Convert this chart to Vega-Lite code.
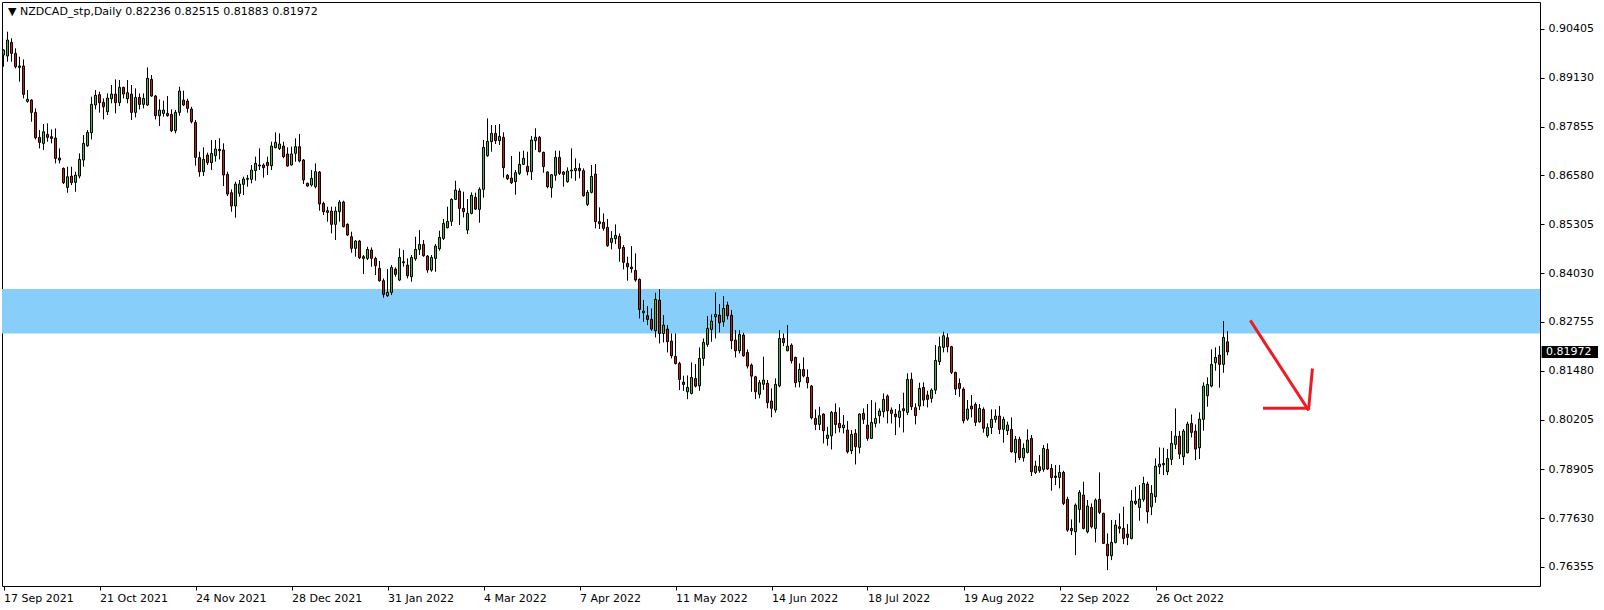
{
"$schema": "https://vega.github.io/schema/vega-lite/v6.json",
"width": 1538, "height": 584,
"autosize": {"type": "none"},
"padding": {"left": 2, "top": 2, "right": 64, "bottom": 24},
"background": "#ffffff",
"config": {
"view": {"stroke": "#000000", "strokeWidth": 1},
"font": "DejaVu Sans",
"scale": {"continuousPadding": 0},
"axisX": {"grid": false, "domain": false, "ticks": true, "tickSize": 4, "tickColor": "#000000", "tickWidth": 1, "labelAlign": "left", "labelBaseline": "top", "labelPadding": 2, "labelFont": "DejaVu Sans", "labelFontSize": 11, "labelColor": "#000000", "labelFlush": false, "labelOverlap": false, "labelBound": false},
"axisY": {"grid": false, "domain": false, "ticks": true, "tickSize": 4, "tickColor": "#000000", "tickWidth": 1, "labelAlign": "left", "labelBaseline": "middle", "labelPadding": 4, "labelFont": "DejaVu Sans", "labelFontSize": 11, "labelColor": "#000000", "labelFlush": false, "labelOverlap": false, "labelBound": false}
},
"title": {"text": "▼ NZDCAD_stp,Daily  0.82236 0.82515 0.81883 0.81972", "anchor": "start", "frame": "group", "orient": "top", "offset": -15, "dx": 6, "font": "DejaVu Sans", "fontSize": 11, "fontWeight": "normal", "color": "#000000"},
"datasets": {
"ohlc": [
{"t":0,"o":0.89725,"h":0.89874,"l":0.89421,"c":0.89856},
{"t":1,"o":0.89699,"h":0.90335,"l":0.89551,"c":0.90117},
{"t":2,"o":0.90056,"h":0.90161,"l":0.89551,"c":0.89769},
{"t":3,"o":0.89769,"h":0.89900,"l":0.89377,"c":0.89421},
{"t":4,"o":0.89438,"h":0.89682,"l":0.89029,"c":0.89403},
{"t":5,"o":0.89438,"h":0.89612,"l":0.88593,"c":0.88698},
{"t":6,"o":0.88515,"h":0.88811,"l":0.88480,"c":0.88567},
{"t":7,"o":0.88550,"h":0.88567,"l":0.87983,"c":0.88227},
{"t":8,"o":0.88227,"h":0.88332,"l":0.87522,"c":0.87565},
{"t":9,"o":0.87574,"h":0.87766,"l":0.87287,"c":0.87443},
{"t":10,"o":0.87417,"h":0.87922,"l":0.87243,"c":0.87722},
{"t":11,"o":0.87652,"h":0.87940,"l":0.87461,"c":0.87574},
{"t":12,"o":0.87592,"h":0.87783,"l":0.87417,"c":0.87548},
{"t":13,"o":0.87557,"h":0.87809,"l":0.86895,"c":0.87025},
{"t":14,"o":0.87034,"h":0.87287,"l":0.86895,"c":0.86982},
{"t":15,"o":0.86764,"h":0.86790,"l":0.86355,"c":0.86390},
{"t":16,"o":0.86268,"h":0.86808,"l":0.86128,"c":0.86546},
{"t":17,"o":0.86564,"h":0.86808,"l":0.86329,"c":0.86390},
{"t":18,"o":0.86398,"h":0.86677,"l":0.86154,"c":0.86590},
{"t":19,"o":0.86564,"h":0.87156,"l":0.86503,"c":0.86999},
{"t":20,"o":0.86982,"h":0.87635,"l":0.86808,"c":0.87417},
{"t":21,"o":0.87356,"h":0.87766,"l":0.87330,"c":0.87705},
{"t":22,"o":0.87696,"h":0.88637,"l":0.87522,"c":0.88436},
{"t":23,"o":0.88419,"h":0.88811,"l":0.88306,"c":0.88672},
{"t":24,"o":0.88689,"h":0.88767,"l":0.88219,"c":0.88480},
{"t":25,"o":0.88489,"h":0.88593,"l":0.88044,"c":0.88375},
{"t":26,"o":0.88245,"h":0.88724,"l":0.88158,"c":0.88602},
{"t":27,"o":0.88584,"h":0.88942,"l":0.88463,"c":0.88706},
{"t":28,"o":0.88706,"h":0.89090,"l":0.88201,"c":0.88480},
{"t":29,"o":0.88480,"h":0.89072,"l":0.88393,"c":0.88881},
{"t":30,"o":0.88881,"h":0.88898,"l":0.88593,"c":0.88706},
{"t":31,"o":0.88584,"h":0.89072,"l":0.88463,"c":0.88741},
{"t":32,"o":0.88706,"h":0.88942,"l":0.88027,"c":0.88227},
{"t":33,"o":0.88227,"h":0.88854,"l":0.88097,"c":0.88619},
{"t":34,"o":0.88619,"h":0.88724,"l":0.88306,"c":0.88436},
{"t":35,"o":0.88436,"h":0.88724,"l":0.88332,"c":0.88593},
{"t":36,"o":0.88419,"h":0.89403,"l":0.88393,"c":0.89116},
{"t":37,"o":0.89090,"h":0.89203,"l":0.88637,"c":0.88654},
{"t":38,"o":0.88654,"h":0.88680,"l":0.88044,"c":0.88140},
{"t":39,"o":0.88140,"h":0.88567,"l":0.87870,"c":0.88288},
{"t":40,"o":0.88201,"h":0.88532,"l":0.88114,"c":0.88288},
{"t":41,"o":0.88201,"h":0.88654,"l":0.88114,"c":0.88140},
{"t":42,"o":0.88175,"h":0.88306,"l":0.87713,"c":0.87748},
{"t":43,"o":0.87748,"h":0.88288,"l":0.87679,"c":0.88227},
{"t":44,"o":0.88227,"h":0.88898,"l":0.88140,"c":0.88785},
{"t":45,"o":0.88550,"h":0.88794,"l":0.88393,"c":0.88419},
{"t":46,"o":0.88524,"h":0.88584,"l":0.88219,"c":0.88332},
{"t":47,"o":0.88314,"h":0.88375,"l":0.87940,"c":0.87983},
{"t":48,"o":0.87966,"h":0.88027,"l":0.86834,"c":0.87052},
{"t":49,"o":0.87045,"h":0.87201,"l":0.86548,"c":0.86679},
{"t":50,"o":0.86679,"h":0.87315,"l":0.86565,"c":0.87001},
{"t":51,"o":0.87114,"h":0.87175,"l":0.86853,"c":0.86914},
{"t":52,"o":0.86914,"h":0.87506,"l":0.86722,"c":0.87158},
{"t":53,"o":0.87097,"h":0.87506,"l":0.86940,"c":0.87271},
{"t":54,"o":0.87262,"h":0.87550,"l":0.87001,"c":0.87227},
{"t":55,"o":0.87245,"h":0.87419,"l":0.86304,"c":0.86592},
{"t":56,"o":0.86609,"h":0.86679,"l":0.86043,"c":0.86095},
{"t":57,"o":0.86130,"h":0.86217,"l":0.85633,"c":0.85782},
{"t":58,"o":0.85782,"h":0.86417,"l":0.85477,"c":0.86356},
{"t":59,"o":0.86113,"h":0.86461,"l":0.86025,"c":0.86356},
{"t":60,"o":0.86348,"h":0.86548,"l":0.86069,"c":0.86487},
{"t":61,"o":0.86478,"h":0.86592,"l":0.86287,"c":0.86504},
{"t":62,"o":0.86478,"h":0.86853,"l":0.86374,"c":0.86722},
{"t":63,"o":0.86705,"h":0.87071,"l":0.86444,"c":0.86896},
{"t":64,"o":0.86853,"h":0.87288,"l":0.86722,"c":0.86827},
{"t":65,"o":0.86853,"h":0.86896,"l":0.86522,"c":0.86783},
{"t":66,"o":0.86923,"h":0.87071,"l":0.86592,"c":0.86835},
{"t":67,"o":0.86835,"h":0.87463,"l":0.86722,"c":0.87349},
{"t":68,"o":0.87306,"h":0.87706,"l":0.87288,"c":0.87445},
{"t":69,"o":0.87280,"h":0.87680,"l":0.87245,"c":0.87402},
{"t":70,"o":0.87349,"h":0.87463,"l":0.87027,"c":0.87071},
{"t":71,"o":0.87140,"h":0.87315,"l":0.86809,"c":0.86827},
{"t":72,"o":0.86853,"h":0.87332,"l":0.86840,"c":0.87140},
{"t":73,"o":0.87158,"h":0.87550,"l":0.86940,"c":0.87332},
{"t":74,"o":0.87332,"h":0.87663,"l":0.86923,"c":0.86957},
{"t":75,"o":0.86984,"h":0.87010,"l":0.86356,"c":0.86461},
{"t":76,"o":0.86374,"h":0.86391,"l":0.86287,"c":0.86304},
{"t":77,"o":0.86330,"h":0.86722,"l":0.86287,"c":0.86504},
{"t":78,"o":0.86287,"h":0.86896,"l":0.86243,"c":0.86679},
{"t":79,"o":0.86670,"h":0.86696,"l":0.85660,"c":0.85834},
{"t":80,"o":0.85851,"h":0.85895,"l":0.85546,"c":0.85633},
{"t":81,"o":0.85660,"h":0.85764,"l":0.85372,"c":0.85616},
{"t":82,"o":0.85651,"h":0.85764,"l":0.85067,"c":0.85303},
{"t":83,"o":0.85303,"h":0.85764,"l":0.84893,"c":0.85651},
{"t":84,"o":0.85633,"h":0.85938,"l":0.85372,"c":0.85886},
{"t":85,"o":0.85886,"h":0.85921,"l":0.85224,"c":0.85242},
{"t":86,"o":0.85303,"h":0.85329,"l":0.84998,"c":0.85024},
{"t":87,"o":0.84980,"h":0.85111,"l":0.84562,"c":0.84675},
{"t":88,"o":0.84675,"h":0.84893,"l":0.84458,"c":0.84867},
{"t":89,"o":0.84867,"h":0.84893,"l":0.84397,"c":0.84432},
{"t":90,"o":0.84458,"h":0.84501,"l":0.84005,"c":0.84414},
{"t":91,"o":0.84414,"h":0.84719,"l":0.84371,"c":0.84649},
{"t":92,"o":0.84632,"h":0.84701,"l":0.84196,"c":0.84414},
{"t":93,"o":0.84414,"h":0.84458,"l":0.83979,"c":0.84222},
{"t":94,"o":0.84153,"h":0.84344,"l":0.83805,"c":0.83831},
{"t":95,"o":0.83831,"h":0.83891,"l":0.83386,"c":0.83473},
{"t":96,"o":0.83439,"h":0.84135,"l":0.83412,"c":0.83526},
{"t":97,"o":0.83526,"h":0.84240,"l":0.83456,"c":0.84179},
{"t":98,"o":0.84135,"h":0.84179,"l":0.83935,"c":0.83996},
{"t":99,"o":0.83848,"h":0.84675,"l":0.83822,"c":0.84440},
{"t":100,"o":0.84301,"h":0.84632,"l":0.84196,"c":0.84327},
{"t":101,"o":0.84240,"h":0.84414,"l":0.83891,"c":0.83961},
{"t":102,"o":0.83935,"h":0.84501,"l":0.83804,"c":0.84440},
{"t":103,"o":0.84405,"h":0.84980,"l":0.84353,"c":0.84649},
{"t":104,"o":0.84649,"h":0.85154,"l":0.84501,"c":0.84780},
{"t":105,"o":0.84780,"h":0.84893,"l":0.84457,"c":0.84483},
{"t":106,"o":0.84475,"h":0.84501,"l":0.84039,"c":0.84109},
{"t":107,"o":0.84109,"h":0.84501,"l":0.84065,"c":0.84440},
{"t":108,"o":0.84414,"h":0.84788,"l":0.84065,"c":0.84736},
{"t":109,"o":0.84666,"h":0.85137,"l":0.84614,"c":0.84963},
{"t":110,"o":0.84936,"h":0.85442,"l":0.84893,"c":0.85328},
{"t":111,"o":0.85215,"h":0.85764,"l":0.85198,"c":0.85381},
{"t":112,"o":0.85381,"h":0.85982,"l":0.85259,"c":0.85955},
{"t":113,"o":0.85955,"h":0.86443,"l":0.85938,"c":0.86199},
{"t":114,"o":0.86173,"h":0.86243,"l":0.85285,"c":0.85720},
{"t":115,"o":0.85720,"h":0.86156,"l":0.85485,"c":0.85633},
{"t":116,"o":0.85154,"h":0.85964,"l":0.85050,"c":0.85590},
{"t":117,"o":0.85590,"h":0.86138,"l":0.85564,"c":0.86060},
{"t":118,"o":0.86008,"h":0.86130,"l":0.85677,"c":0.85703},
{"t":119,"o":0.85694,"h":0.86269,"l":0.85346,"c":0.86217},
{"t":120,"o":0.86217,"h":0.87506,"l":0.85999,"c":0.87314},
{"t":121,"o":0.87096,"h":0.88072,"l":0.87070,"c":0.87471},
{"t":122,"o":0.87462,"h":0.87898,"l":0.87201,"c":0.87680},
{"t":123,"o":0.87680,"h":0.87898,"l":0.87401,"c":0.87488},
{"t":124,"o":0.87488,"h":0.87924,"l":0.87375,"c":0.87602},
{"t":125,"o":0.87576,"h":0.87706,"l":0.86522,"c":0.86783},
{"t":126,"o":0.86583,"h":0.86617,"l":0.86461,"c":0.86495},
{"t":127,"o":0.86513,"h":0.87088,"l":0.86356,"c":0.86391},
{"t":128,"o":0.86417,"h":0.86722,"l":0.86077,"c":0.86652},
{"t":129,"o":0.86635,"h":0.87201,"l":0.86591,"c":0.86870},
{"t":130,"o":0.86870,"h":0.87227,"l":0.86852,"c":0.87027},
{"t":131,"o":0.86818,"h":0.87201,"l":0.86583,"c":0.86678},
{"t":132,"o":0.86678,"h":0.87610,"l":0.86461,"c":0.87506},
{"t":133,"o":0.87488,"h":0.87811,"l":0.87245,"c":0.87576},
{"t":134,"o":0.87576,"h":0.87610,"l":0.87184,"c":0.87201},
{"t":135,"o":0.87184,"h":0.87201,"l":0.86652,"c":0.86809},
{"t":136,"o":0.86670,"h":0.86687,"l":0.86243,"c":0.86286},
{"t":137,"o":0.86260,"h":0.86617,"l":0.85999,"c":0.86600},
{"t":138,"o":0.86583,"h":0.87227,"l":0.86443,"c":0.87053},
{"t":139,"o":0.87053,"h":0.87227,"l":0.86591,"c":0.86635},
{"t":140,"o":0.86670,"h":0.86696,"l":0.86286,"c":0.86609},
{"t":141,"o":0.86417,"h":0.86792,"l":0.86391,"c":0.86696},
{"t":142,"o":0.86696,"h":0.87288,"l":0.86504,"c":0.86722},
{"t":143,"o":0.86705,"h":0.87027,"l":0.86443,"c":0.86765},
{"t":144,"o":0.86765,"h":0.86896,"l":0.86504,"c":0.86705},
{"t":145,"o":0.86705,"h":0.86765,"l":0.86025,"c":0.86051},
{"t":146,"o":0.85825,"h":0.86199,"l":0.85781,"c":0.86138},
{"t":147,"o":0.86138,"h":0.86852,"l":0.86112,"c":0.86556},
{"t":148,"o":0.86617,"h":0.86879,"l":0.85198,"c":0.85372},
{"t":149,"o":0.85372,"h":0.85747,"l":0.85181,"c":0.85320},
{"t":150,"o":0.85355,"h":0.85590,"l":0.85137,"c":0.85198},
{"t":151,"o":0.85224,"h":0.85442,"l":0.84719,"c":0.84745},
{"t":152,"o":0.84832,"h":0.85128,"l":0.84649,"c":0.84937},
{"t":153,"o":0.84928,"h":0.85303,"l":0.84789,"c":0.85015},
{"t":154,"o":0.84989,"h":0.85067,"l":0.84327,"c":0.84675},
{"t":155,"o":0.84702,"h":0.84762,"l":0.84127,"c":0.84310},
{"t":156,"o":0.84283,"h":0.84458,"l":0.83831,"c":0.84196},
{"t":157,"o":0.84188,"h":0.84736,"l":0.84040,"c":0.84144},
{"t":158,"o":0.84101,"h":0.84545,"l":0.83805,"c":0.83848},
{"t":159,"o":0.83865,"h":0.83891,"l":0.82846,"c":0.83081},
{"t":160,"o":0.82994,"h":0.83325,"l":0.82759,"c":0.83038},
{"t":161,"o":0.82916,"h":0.83169,"l":0.82672,"c":0.82820},
{"t":162,"o":0.82820,"h":0.83108,"l":0.82524,"c":0.82568},
{"t":163,"o":0.82524,"h":0.83517,"l":0.82350,"c":0.83343},
{"t":164,"o":0.83325,"h":0.83613,"l":0.82193,"c":0.82454},
{"t":165,"o":0.82454,"h":0.82933,"l":0.82219,"c":0.82672},
{"t":166,"o":0.82568,"h":0.82672,"l":0.81958,"c":0.82237},
{"t":167,"o":0.82254,"h":0.82454,"l":0.81801,"c":0.81871},
{"t":168,"o":0.81853,"h":0.82454,"l":0.81644,"c":0.81670},
{"t":169,"o":0.81670,"h":0.81714,"l":0.80974,"c":0.81252},
{"t":170,"o":0.81183,"h":0.81348,"l":0.80956,"c":0.81122},
{"t":171,"o":0.80930,"h":0.81357,"l":0.80738,"c":0.81043},
{"t":172,"o":0.80887,"h":0.81697,"l":0.80861,"c":0.81305},
{"t":173,"o":0.81278,"h":0.81653,"l":0.81043,"c":0.81078},
{"t":174,"o":0.81087,"h":0.82089,"l":0.80956,"c":0.81801},
{"t":175,"o":0.81801,"h":0.82324,"l":0.81609,"c":0.82219},
{"t":176,"o":0.82167,"h":0.82907,"l":0.82106,"c":0.82585},
{"t":177,"o":0.82559,"h":0.82951,"l":0.82237,"c":0.82777},
{"t":178,"o":0.82890,"h":0.83526,"l":0.82324,"c":0.82951},
{"t":179,"o":0.82933,"h":0.83221,"l":0.82480,"c":0.82733},
{"t":180,"o":0.82759,"h":0.83430,"l":0.82629,"c":0.83108},
{"t":181,"o":0.83195,"h":0.83282,"l":0.82820,"c":0.82916},
{"t":182,"o":0.82925,"h":0.83064,"l":0.82045,"c":0.82263},
{"t":183,"o":0.82280,"h":0.82541,"l":0.81827,"c":0.82001},
{"t":184,"o":0.82001,"h":0.82541,"l":0.81932,"c":0.82428},
{"t":185,"o":0.82411,"h":0.82472,"l":0.81845,"c":0.81871},
{"t":186,"o":0.81958,"h":0.82036,"l":0.81540,"c":0.81601},
{"t":187,"o":0.81627,"h":0.81670,"l":0.80930,"c":0.81339},
{"t":188,"o":0.81322,"h":0.81348,"l":0.80738,"c":0.80930},
{"t":189,"o":0.80865,"h":0.81238,"l":0.80760,"c":0.81168},
{"t":190,"o":0.81126,"h":0.81847,"l":0.80977,"c":0.81238},
{"t":191,"o":0.81152,"h":0.81238,"l":0.80499,"c":0.80645},
{"t":192,"o":0.80690,"h":0.81021,"l":0.80264,"c":0.80499},
{"t":193,"o":0.80455,"h":0.81282,"l":0.80384,"c":0.81126},
{"t":194,"o":0.81087,"h":0.82541,"l":0.81050,"c":0.82324},
{"t":195,"o":0.82324,"h":0.82454,"l":0.82123,"c":0.82210},
{"t":196,"o":0.82001,"h":0.82672,"l":0.81990,"c":0.82123},
{"t":197,"o":0.82149,"h":0.82193,"l":0.81670,"c":0.81740},
{"t":198,"o":0.81829,"h":0.81846,"l":0.81045,"c":0.81167},
{"t":199,"o":0.81193,"h":0.81672,"l":0.81045,"c":0.81515},
{"t":200,"o":0.81515,"h":0.81829,"l":0.81306,"c":0.81341},
{"t":201,"o":0.81306,"h":0.81515,"l":0.81019,"c":0.81167},
{"t":202,"o":0.81080,"h":0.81106,"l":0.80209,"c":0.80252},
{"t":203,"o":0.80235,"h":0.80470,"l":0.79930,"c":0.80078},
{"t":204,"o":0.80078,"h":0.80540,"l":0.79930,"c":0.80305},
{"t":205,"o":0.80348,"h":0.80366,"l":0.79582,"c":0.79913},
{"t":206,"o":0.79712,"h":0.80017,"l":0.79521,"c":0.79799},
{"t":207,"o":0.79782,"h":0.80427,"l":0.79425,"c":0.80392},
{"t":208,"o":0.80392,"h":0.80627,"l":0.79843,"c":0.80078},
{"t":209,"o":0.80104,"h":0.80522,"l":0.79869,"c":0.79991},
{"t":210,"o":0.79991,"h":0.80322,"l":0.79843,"c":0.80061},
{"t":211,"o":0.79930,"h":0.80165,"l":0.79320,"c":0.79364},
{"t":212,"o":0.79390,"h":0.79930,"l":0.79303,"c":0.79817},
{"t":213,"o":0.79843,"h":0.79956,"l":0.79033,"c":0.79495},
{"t":214,"o":0.79477,"h":0.80366,"l":0.79320,"c":0.80348},
{"t":215,"o":0.80366,"h":0.80496,"l":0.80087,"c":0.80209},
{"t":216,"o":0.80061,"h":0.80610,"l":0.79651,"c":0.79712},
{"t":217,"o":0.79712,"h":0.80714,"l":0.79700,"c":0.80130},
{"t":218,"o":0.80104,"h":0.80653,"l":0.80000,"c":0.80235},
{"t":219,"o":0.80305,"h":0.80496,"l":0.80104,"c":0.80427},
{"t":220,"o":0.80409,"h":0.80888,"l":0.80261,"c":0.80731},
{"t":221,"o":0.80819,"h":0.80862,"l":0.80104,"c":0.80435},
{"t":222,"o":0.80453,"h":0.80522,"l":0.80104,"c":0.80366},
{"t":223,"o":0.80348,"h":0.80479,"l":0.79799,"c":0.80278},
{"t":224,"o":0.80261,"h":0.80610,"l":0.80000,"c":0.80427},
{"t":225,"o":0.80488,"h":0.80906,"l":0.79869,"c":0.80435},
{"t":226,"o":0.80392,"h":0.81411,"l":0.80322,"c":0.81254},
{"t":227,"o":0.81254,"h":0.81428,"l":0.80453,"c":0.80540},
{"t":228,"o":0.80514,"h":0.80627,"l":0.80078,"c":0.80305},
{"t":229,"o":0.80557,"h":0.81167,"l":0.80453,"c":0.81019},
{"t":230,"o":0.81045,"h":0.81176,"l":0.80557,"c":0.80714},
{"t":231,"o":0.80845,"h":0.80958,"l":0.80522,"c":0.80731},
{"t":232,"o":0.80758,"h":0.81019,"l":0.80644,"c":0.80975},
{"t":233,"o":0.80975,"h":0.82151,"l":0.80871,"c":0.81751},
{"t":234,"o":0.81716,"h":0.82369,"l":0.81629,"c":0.82108},
{"t":235,"o":0.82090,"h":0.82500,"l":0.81960,"c":0.82395},
{"t":236,"o":0.82343,"h":0.82456,"l":0.81960,"c":0.82108},
{"t":237,"o":0.82108,"h":0.82130,"l":0.81393,"c":0.81437},
{"t":238,"o":0.81437,"h":0.81454,"l":0.80845,"c":0.81001},
{"t":239,"o":0.81149,"h":0.81280,"l":0.80801,"c":0.81019},
{"t":240,"o":0.81001,"h":0.81045,"l":0.80104,"c":0.80174},
{"t":241,"o":0.80218,"h":0.80714,"l":0.80174,"c":0.80479},
{"t":242,"o":0.80557,"h":0.80845,"l":0.80261,"c":0.80479},
{"t":243,"o":0.80601,"h":0.80653,"l":0.80035,"c":0.80130},
{"t":244,"o":0.80148,"h":0.80610,"l":0.80122,"c":0.80496},
{"t":245,"o":0.80471,"h":0.80523,"l":0.79862,"c":0.79975},
{"t":246,"o":0.79783,"h":0.80105,"l":0.79731,"c":0.79997},
{"t":247,"o":0.79997,"h":0.80471,"l":0.79827,"c":0.80210},
{"t":248,"o":0.80210,"h":0.80471,"l":0.80123,"c":0.80297},
{"t":249,"o":0.80297,"h":0.80558,"l":0.79827,"c":0.79949},
{"t":250,"o":0.79949,"h":0.80280,"l":0.79600,"c":0.80210},
{"t":251,"o":0.79914,"h":0.80149,"l":0.79801,"c":0.80062},
{"t":252,"o":0.79949,"h":0.80262,"l":0.79339,"c":0.79365},
{"t":253,"o":0.79339,"h":0.79774,"l":0.79078,"c":0.79687},
{"t":254,"o":0.79687,"h":0.79757,"l":0.79147,"c":0.79208},
{"t":255,"o":0.79208,"h":0.79583,"l":0.79104,"c":0.79452},
{"t":256,"o":0.79348,"h":0.79949,"l":0.79321,"c":0.79670},
{"t":257,"o":0.79713,"h":0.79801,"l":0.78729,"c":0.78842},
{"t":258,"o":0.78825,"h":0.79130,"l":0.78781,"c":0.78990},
{"t":259,"o":0.78973,"h":0.79278,"l":0.78816,"c":0.78869},
{"t":260,"o":0.78903,"h":0.79539,"l":0.78842,"c":0.79452},
{"t":261,"o":0.79426,"h":0.79583,"l":0.78886,"c":0.78912},
{"t":262,"o":0.78930,"h":0.79043,"l":0.78346,"c":0.78686},
{"t":263,"o":0.78729,"h":0.79017,"l":0.78494,"c":0.78694},
{"t":264,"o":0.78694,"h":0.79017,"l":0.78407,"c":0.78825},
{"t":265,"o":0.78825,"h":0.78869,"l":0.77971,"c":0.78015},
{"t":266,"o":0.78120,"h":0.78189,"l":0.77275,"c":0.77318},
{"t":267,"o":0.77362,"h":0.77597,"l":0.77188,"c":0.77301},
{"t":268,"o":0.77275,"h":0.78015,"l":0.76665,"c":0.77971},
{"t":269,"o":0.77858,"h":0.78363,"l":0.77510,"c":0.78302},
{"t":270,"o":0.78233,"h":0.78581,"l":0.77336,"c":0.77362},
{"t":271,"o":0.77275,"h":0.78102,"l":0.77231,"c":0.77945},
{"t":272,"o":0.77910,"h":0.78015,"l":0.77362,"c":0.77405},
{"t":273,"o":0.77362,"h":0.78146,"l":0.76996,"c":0.78102},
{"t":274,"o":0.78120,"h":0.78825,"l":0.77736,"c":0.77780},
{"t":275,"o":0.77754,"h":0.77771,"l":0.76960,"c":0.76970},
{"t":276,"o":0.76952,"h":0.77231,"l":0.76273,"c":0.76648},
{"t":277,"o":0.76648,"h":0.77580,"l":0.76534,"c":0.76996},
{"t":278,"o":0.76996,"h":0.77580,"l":0.76970,"c":0.77449},
{"t":279,"o":0.77405,"h":0.77754,"l":0.77231,"c":0.77362},
{"t":280,"o":0.77362,"h":0.77928,"l":0.76952,"c":0.77100},
{"t":281,"o":0.77214,"h":0.77475,"l":0.76926,"c":0.77127},
{"t":282,"o":0.77100,"h":0.78363,"l":0.77074,"c":0.78076},
{"t":283,"o":0.78076,"h":0.78451,"l":0.77971,"c":0.78015},
{"t":284,"o":0.77910,"h":0.78494,"l":0.77562,"c":0.78128},
{"t":285,"o":0.78120,"h":0.78712,"l":0.78059,"c":0.78538},
{"t":286,"o":0.78520,"h":0.78581,"l":0.77492,"c":0.77797},
{"t":287,"o":0.77928,"h":0.78494,"l":0.77710,"c":0.78276},
{"t":288,"o":0.78189,"h":0.79191,"l":0.78032,"c":0.78990},
{"t":289,"o":0.78972,"h":0.79477,"l":0.78780,"c":0.79042},
{"t":290,"o":0.79059,"h":0.79468,"l":0.78754,"c":0.79024},
{"t":291,"o":0.78841,"h":0.79434,"l":0.78754,"c":0.79190},
{"t":292,"o":0.79164,"h":0.79904,"l":0.79016,"c":0.79582},
{"t":293,"o":0.79556,"h":0.80496,"l":0.79434,"c":0.79773},
{"t":294,"o":0.79773,"h":0.79904,"l":0.79172,"c":0.79303},
{"t":295,"o":0.79233,"h":0.79956,"l":0.79016,"c":0.79904},
{"t":296,"o":0.79338,"h":0.80148,"l":0.79320,"c":0.80087},
{"t":297,"o":0.80104,"h":0.80339,"l":0.79738,"c":0.79869},
{"t":298,"o":0.79904,"h":0.80078,"l":0.79146,"c":0.79434},
{"t":299,"o":0.79468,"h":0.80392,"l":0.79172,"c":0.80218},
{"t":300,"o":0.80209,"h":0.81176,"l":0.79913,"c":0.81080},
{"t":301,"o":0.80827,"h":0.81306,"l":0.80540,"c":0.81123},
{"t":302,"o":0.81080,"h":0.82038,"l":0.81045,"c":0.81646},
{"t":303,"o":0.81690,"h":0.82090,"l":0.81480,"c":0.81829},
{"t":304,"o":0.81890,"h":0.82125,"l":0.81036,"c":0.81646},
{"t":305,"o":0.81646,"h":0.82778,"l":0.81428,"c":0.82351},
{"t":306,"o":0.82236,"h":0.82515,"l":0.81883,"c":0.81972}
],
"zone": [{"lo": 0.82451, "hi": 0.83615}],
"arrow": [
{"seg": "a", "k": 1, "t": 311.9, "p": 0.82761},
{"seg": "a", "k": 2, "t": 326.1, "p": 0.80473},
{"seg": "b", "k": 1, "t": 315.25, "p": 0.80499},
{"seg": "b", "k": 2, "t": 326.3, "p": 0.80499},
{"seg": "b", "k": 3, "t": 327.2, "p": 0.81499}
],
"last": [{"p": 0.81972, "lo": 0.81815, "hi": 0.82129, "label": "0.81972"}]
},
"layer": [
{
"data": {"name": "zone"},
"mark": {"type": "rect", "color": "#87cefa"},
"encoding": {
"x": {"datum": -0.375, "type": "quantitative", "scale": {"domain": [-0.375, 384.125], "nice": false, "zero": false, "padding": 0},
"axis": {"title": null, "values": [0,24,48,72,96,120,144,168,192,216,240,264,288], "labelExpr": "['17 Sep 2021','21 Oct 2021','24 Nov 2021','28 Dec 2021','31 Jan 2022','4 Mar 2022','7 Apr 2022','11 May 2022','14 Jun 2022','18 Jul 2022','19 Aug 2022','22 Sep 2022','26 Oct 2022'][round(datum.value/24)]"}},
"x2": {"datum": 384.125},
"y": {"field": "lo", "type": "quantitative", "scale": {"domain": [0.75858, 0.9111], "nice": false, "zero": false, "padding": 0},
"axis": {"orient": "right", "title": null, "format": ".5f", "values": [0.76355,0.7763,0.78905,0.80205,0.8148,0.82755,0.8403,0.85305,0.8658,0.87855,0.8913,0.90405]}},
"y2": {"field": "hi"}
}
},
{
"data": {"name": "ohlc"},
"mark": {"type": "rule", "color": "#000000", "strokeWidth": 1},
"encoding": {
"x": {"field": "t", "type": "quantitative", "scale": {"domain": [-0.375, 384.125], "nice": false, "zero": false, "padding": 0},
"axis": {"title": null, "values": [0,24,48,72,96,120,144,168,192,216,240,264,288], "labelExpr": "['17 Sep 2021','21 Oct 2021','24 Nov 2021','28 Dec 2021','31 Jan 2022','4 Mar 2022','7 Apr 2022','11 May 2022','14 Jun 2022','18 Jul 2022','19 Aug 2022','22 Sep 2022','26 Oct 2022'][round(datum.value/24)]"}},
"y": {"field": "l", "type": "quantitative", "scale": {"domain": [0.75858, 0.9111], "nice": false, "zero": false, "padding": 0},
"axis": {"orient": "right", "title": null, "format": ".5f", "values": [0.76355,0.7763,0.78905,0.80205,0.8148,0.82755,0.8403,0.85305,0.8658,0.87855,0.8913,0.90405]}},
"y2": {"field": "h"}
}
},
{
"data": {"name": "ohlc"},
"mark": {"type": "bar", "size": 2, "stroke": "#000000", "strokeWidth": 1},
"encoding": {
"x": {"field": "t", "type": "quantitative", "scale": {"domain": [-0.375, 384.125], "nice": false, "zero": false, "padding": 0},
"axis": {"title": null, "values": [0,24,48,72,96,120,144,168,192,216,240,264,288], "labelExpr": "['17 Sep 2021','21 Oct 2021','24 Nov 2021','28 Dec 2021','31 Jan 2022','4 Mar 2022','7 Apr 2022','11 May 2022','14 Jun 2022','18 Jul 2022','19 Aug 2022','22 Sep 2022','26 Oct 2022'][round(datum.value/24)]"}},
"y": {"field": "o", "type": "quantitative", "scale": {"domain": [0.75858, 0.9111], "nice": false, "zero": false, "padding": 0},
"axis": {"orient": "right", "title": null, "format": ".5f", "values": [0.76355,0.7763,0.78905,0.80205,0.8148,0.82755,0.8403,0.85305,0.8658,0.87855,0.8913,0.90405]}},
"y2": {"field": "c"},
"color": {"condition": {"test": "datum.c >= datum.o", "value": "#22cc22"}, "value": "#d41515"}
}
},
{
"data": {"name": "arrow"},
"mark": {"type": "line", "color": "#ed1c24", "strokeWidth": 3, "strokeCap": "square"},
"encoding": {
"x": {"field": "t", "type": "quantitative", "scale": {"domain": [-0.375, 384.125], "nice": false, "zero": false, "padding": 0},
"axis": {"title": null, "values": [0,24,48,72,96,120,144,168,192,216,240,264,288], "labelExpr": "['17 Sep 2021','21 Oct 2021','24 Nov 2021','28 Dec 2021','31 Jan 2022','4 Mar 2022','7 Apr 2022','11 May 2022','14 Jun 2022','18 Jul 2022','19 Aug 2022','22 Sep 2022','26 Oct 2022'][round(datum.value/24)]"}},
"y": {"field": "p", "type": "quantitative", "scale": {"domain": [0.75858, 0.9111], "nice": false, "zero": false, "padding": 0},
"axis": {"orient": "right", "title": null, "format": ".5f", "values": [0.76355,0.7763,0.78905,0.80205,0.8148,0.82755,0.8403,0.85305,0.8658,0.87855,0.8913,0.90405]}},
"detail": {"field": "seg"},
"order": {"field": "k"}
}
},
{
"data": {"name": "last"},
"mark": {"type": "rect", "color": "#000000", "clip": false},
"encoding": {
"x": {"datum": 384.525, "type": "quantitative", "scale": {"domain": [-0.375, 384.125], "nice": false, "zero": false, "padding": 0},
"axis": {"title": null, "values": [0,24,48,72,96,120,144,168,192,216,240,264,288], "labelExpr": "['17 Sep 2021','21 Oct 2021','24 Nov 2021','28 Dec 2021','31 Jan 2022','4 Mar 2022','7 Apr 2022','11 May 2022','14 Jun 2022','18 Jul 2022','19 Aug 2022','22 Sep 2022','26 Oct 2022'][round(datum.value/24)]"}},
"x2": {"datum": 398.625},
"y": {"field": "lo", "type": "quantitative", "scale": {"domain": [0.75858, 0.9111], "nice": false, "zero": false, "padding": 0},
"axis": {"orient": "right", "title": null, "format": ".5f", "values": [0.76355,0.7763,0.78905,0.80205,0.8148,0.82755,0.8403,0.85305,0.8658,0.87855,0.8913,0.90405]}},
"y2": {"field": "hi"}
}
},
{
"data": {"name": "last"},
"mark": {"type": "text", "color": "#ffffff", "align": "left", "baseline": "middle", "font": "DejaVu Sans", "fontSize": 11, "clip": false},
"encoding": {
"x": {"datum": 385.6, "type": "quantitative", "scale": {"domain": [-0.375, 384.125], "nice": false, "zero": false, "padding": 0},
"axis": {"title": null, "values": [0,24,48,72,96,120,144,168,192,216,240,264,288], "labelExpr": "['17 Sep 2021','21 Oct 2021','24 Nov 2021','28 Dec 2021','31 Jan 2022','4 Mar 2022','7 Apr 2022','11 May 2022','14 Jun 2022','18 Jul 2022','19 Aug 2022','22 Sep 2022','26 Oct 2022'][round(datum.value/24)]"}},
"y": {"field": "p", "type": "quantitative", "scale": {"domain": [0.75858, 0.9111], "nice": false, "zero": false, "padding": 0},
"axis": {"orient": "right", "title": null, "format": ".5f", "values": [0.76355,0.7763,0.78905,0.80205,0.8148,0.82755,0.8403,0.85305,0.8658,0.87855,0.8913,0.90405]}},
"text": {"field": "label"}
}
}
]
}
